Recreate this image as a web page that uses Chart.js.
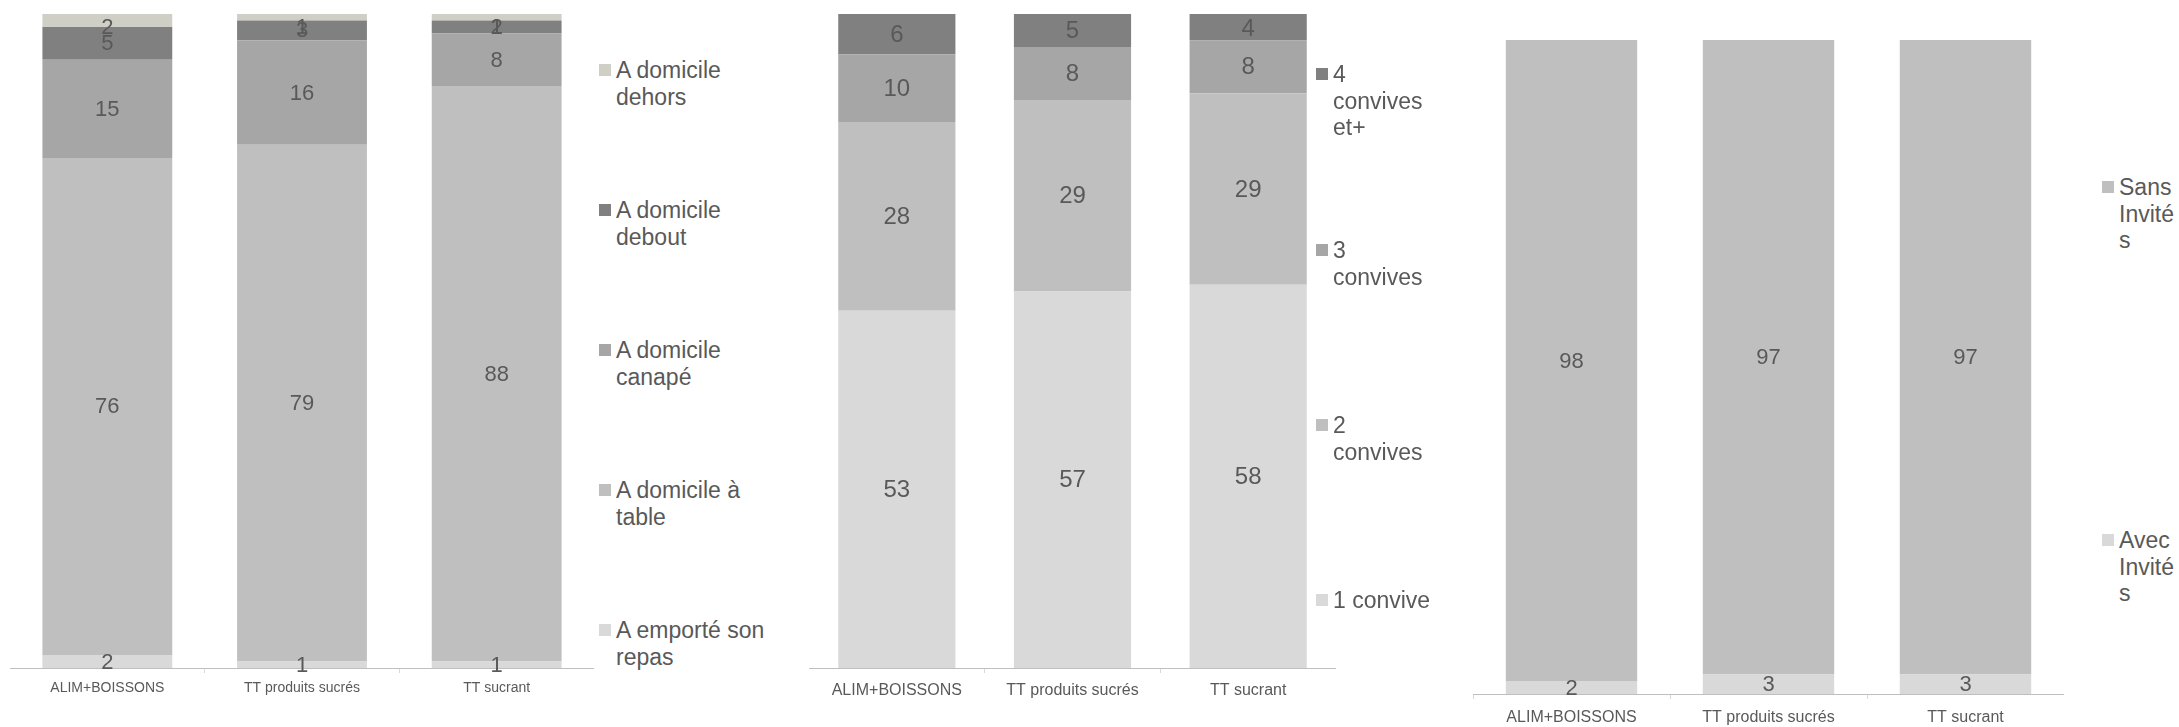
<!DOCTYPE html>
<html>
<head>
<meta charset="utf-8">
<script src="https://cdn.jsdelivr.net/npm/chart.js@4/dist/chart.umd.min.js"></script>
<style>
html,body{margin:0;padding:0;background:#fff;width:2179px;height:727px;overflow:hidden;font-family:"Liberation Sans",Arial,sans-serif;}
canvas{position:absolute;}
.legtxt{position:absolute;color:#595959;font-size:23px;line-height:26.5px;overflow-wrap:anywhere;}
.legbox{position:absolute;width:12px;height:12px;}
</style>
</head>
<body>
<canvas id="c1" width="584" height="694" style="left:10px;top:14px"></canvas>
<canvas id="c2" width="527" height="694" style="left:809px;top:14px"></canvas>
<canvas id="c3" width="591" height="687" style="left:1473px;top:40px"></canvas>
<div id="legends"></div>
<script>
// ---------- DATA ----------
const categories = ['ALIM+BOISSONS', 'TT produits sucrés', 'TT sucrant'];

// Chart 1 : lieu de consommation
const lieuLabels = ['A emporté son repas', 'A domicile à table', 'A domicile canapé', 'A domicile debout', 'A domicile dehors'];
const emporteRepas = [2, 1, 1];
const domicileTable = [76, 79, 88];
const domicileCanape = [15, 16, 8];
const domicileDebout = [5, 3, 2];
const domicileDehors = [2, 1, 1];

// Chart 2 : nombre de convives
const convivesLabels = ['1 convive', '2 convives', '3 convives', '4 convives et+'];
const convive1 = [53, 57, 58];
const convives2 = [28, 29, 29];
const convives3 = [10, 8, 8];
const convives4 = [6, 5, 4];

// Chart 3 : invités
const invitesLabels = ['Avec Invités', 'Sans Invités'];
const avecInvites = [2, 3, 3];
const sansInvites = [98, 97, 97];

// ---------- STYLE ----------
const FONT = 'Liberation Sans';
Chart.defaults.font.family = FONT;
const C_LIGHT = '#d9d9d9', C_MID = '#bfbfbf', C_DARK = '#a6a6a6', C_DARKER = '#808080', C_BEIGE = '#cfcfc5';

const valueLabelPlugin = {
  id: 'valueLabels',
  afterDatasetsDraw(chart, args, opts) {
    const ctx = chart.ctx;
    const minY = chart.chartArea.top + opts.size * 0.62;
    ctx.save();
    ctx.fillStyle = '#595959';
    ctx.font = opts.size + 'px "' + FONT + '"';
    ctx.textAlign = 'center';
    ctx.textBaseline = 'middle';
    chart.data.datasets.forEach((ds, di) => {
      const meta = chart.getDatasetMeta(di);
      meta.data.forEach((el, i) => {
        const p = el.getProps(['x', 'y', 'base'], true);
        const yc = Math.max((p.y + p.base) / 2 + 1, minY);
        ctx.fillText(String(ds.raw[i]), p.x, yc);
      });
    });
    ctx.restore();
  }
};

function makeChart(id, series, cfg) {
  const n = categories.length;
  const totals = [];
  for (let i = 0; i < n; i++) totals.push(series.reduce((a, s) => a + s.values[i], 0));
  const datasets = series.map(s => ({
    label: s.label,
    raw: s.values,
    data: s.values.map((v, i) => v / totals[i] * 100),
    backgroundColor: s.color,
    borderWidth: 0,
    categoryPercentage: 1,
    barPercentage: 0.667
  }));
  return new Chart(document.getElementById(id), {
    type: 'bar',
    data: { labels: categories, datasets },
    options: {
      responsive: false,
      animation: false,
      layout: { padding: 0 },
      plugins: {
        legend: { display: false },
        tooltip: { enabled: false },
        valueLabels: { size: cfg.labelSize }
      },
      scales: {
        x: {
          stacked: true,
          grid: { display: true, drawOnChartArea: false, drawTicks: true, tickLength: 5, color: '#d9d9d9', offset: true },
          border: { display: true, color: '#bfbfbf', width: 1 },
          ticks: { color: '#595959', font: { family: FONT, size: cfg.tickSize }, padding: cfg.tickPad, maxRotation: 0, autoSkip: false },
          afterFit: s => { s.height = cfg.axisH; }
        },
        y: { stacked: true, display: false, min: 0, max: 100 }
      }
    },
    plugins: [valueLabelPlugin]
  });
}

const ch1 = makeChart('c1', [
  { label: lieuLabels[0], values: emporteRepas, color: C_LIGHT },
  { label: lieuLabels[1], values: domicileTable, color: C_MID },
  { label: lieuLabels[2], values: domicileCanape, color: C_DARK },
  { label: lieuLabels[3], values: domicileDebout, color: C_DARKER },
  { label: lieuLabels[4], values: domicileDehors, color: C_BEIGE }
], { labelSize: 22, tickSize: 14, tickPad: 7, axisH: 40 });

const ch2 = makeChart('c2', [
  { label: convivesLabels[0], values: convive1, color: C_LIGHT },
  { label: convivesLabels[1], values: convives2, color: C_MID },
  { label: convivesLabels[2], values: convives3, color: C_DARK },
  { label: convivesLabels[3], values: convives4, color: C_DARKER }
], { labelSize: 24, tickSize: 16, tickPad: 8, axisH: 40 });

const ch3 = makeChart('c3', [
  { label: invitesLabels[0], values: avecInvites, color: C_LIGHT },
  { label: invitesLabels[1], values: sansInvites, color: C_MID }
], { labelSize: 22, tickSize: 16, tickPad: 9, axisH: 33 });

// ---------- LEGENDS (HTML, built from the chart datasets, top item = last series) ----------
function buildLegend(chart, markerLeft, textLeft, textWidth, centers) {
  const root = document.getElementById('legends');
  const ds = chart.data.datasets.slice().reverse();
  ds.forEach((d, k) => {
    const c = centers[k];
    const box = document.createElement('div');
    box.className = 'legbox';
    box.style.left = markerLeft + 'px';
    box.style.top = (c - 6) + 'px';
    box.style.background = d.backgroundColor;
    root.appendChild(box);
    const t = document.createElement('div');
    t.className = 'legtxt';
    t.style.left = textLeft + 'px';
    t.style.top = (c - 13) + 'px';
    t.style.width = textWidth + 'px';
    t.textContent = d.label;
    root.appendChild(t);
  });
}
buildLegend(ch1, 599, 616, 165, [70, 210, 350, 490, 630]);
buildLegend(ch2, 1316, 1333, 103, [74, 250, 425, 600]);
buildLegend(ch3, 2102, 2119, 59, [187, 540]);
</script>
</body>
</html>
